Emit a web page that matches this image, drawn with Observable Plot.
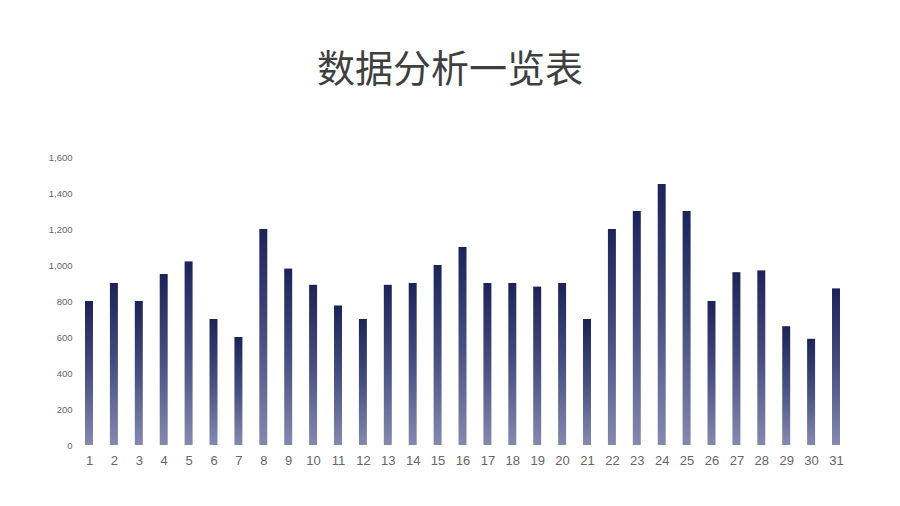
<!DOCTYPE html>
<html>
<head>
<meta charset="utf-8">
<script src="https://cdn.jsdelivr.net/npm/d3@7"></script>
<script src="https://cdn.jsdelivr.net/npm/@observablehq/plot@0.6"></script>
<style>
  html, body { margin: 0; padding: 0; background: #fff; width: 900px; height: 506px; overflow: hidden; }
  #title { height: 130px; box-sizing: border-box; padding-top: 44px; text-align: center; font-family: "Noto Sans CJK SC", sans-serif; font-size: 38px; line-height: 44px; color: #3f3f3f; }
</style>
</head>
<body>
<div id="title">数据分析一览表</div>
<div id="chart"></div>
<script>
const days = [1,2,3,4,5,6,7,8,9,10,11,12,13,14,15,16,17,18,19,20,21,22,23,24,25,26,27,28,29,30,31];
const values = [800,900,800,950,1020,700,600,1200,980,890,775,700,890,900,1000,1100,900,900,880,900,700,1200,1300,1450,1300,800,960,970,660,590,870];
const yTicks = [0,200,400,600,800,1000,1200,1400,1600];

const data = days.map((d, i) => ({day: d, value: values[i]}));

const chart = Plot.plot({
  width: 900,
  height: 376,
  marginTop: 27,
  marginBottom: 61,
  marginLeft: 76,
  marginRight: 51,
  style: {fontFamily: "Arial, 'Liberation Sans', sans-serif", background: "#fff"},
  x: {domain: days, paddingInner: 0.68, paddingOuter: 0.362, round: false, label: null},
  y: {domain: [0, 1600], label: null},
  marks: [
    Plot.axisY({ticks: yTicks, tickSize: 0, tickPadding: 4, fontSize: 9.5, fill: "#666", tickFormat: d3.format(",")}),
    Plot.axisX({tickSize: 0, tickPadding: 10, fontSize: 13, fill: "#666"}),
    Plot.barY(data, {x: "day", y: "value", fill: "url(#barGrad)"})
  ]
});

const ns = "http://www.w3.org/2000/svg";
const defs = document.createElementNS(ns, "defs");
defs.innerHTML = `<linearGradient id="barGrad" x1="0" y1="0" x2="0" y2="1">
  <stop offset="0" stop-color="#1b2358"/>
  <stop offset="0.5" stop-color="#474f80"/>
  <stop offset="1" stop-color="#8589b0"/>
</linearGradient>`;
chart.insertBefore(defs, chart.firstChild);
document.getElementById("chart").appendChild(chart);
</script>
</body>
</html>
